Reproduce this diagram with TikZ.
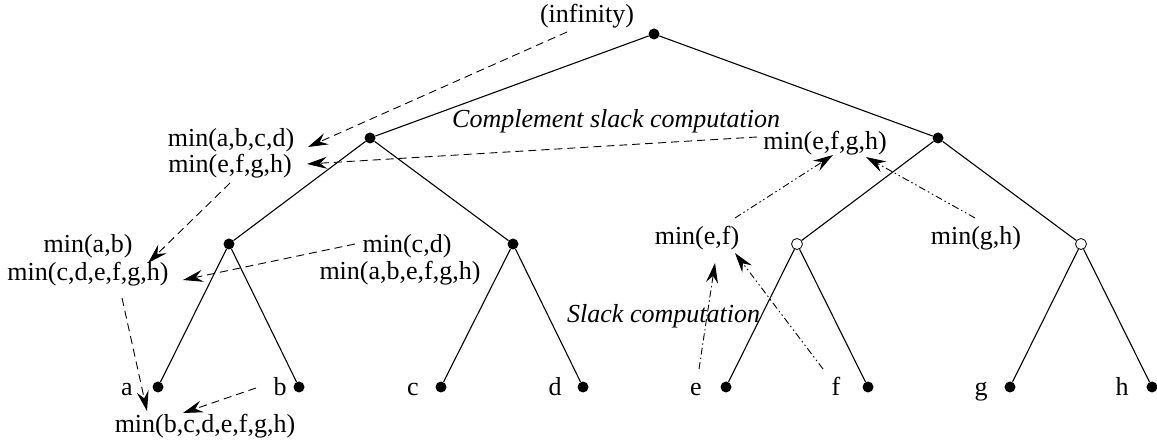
\documentclass[tikz,border=0pt]{standalone}
\usepackage{fontspec}
\setmainfont{Liberation Serif}
\usetikzlibrary{arrows.meta}

\tikzset{
  dot/.style={circle, fill=black, inner sep=0pt, minimum size=11pt},
  hollow/.style={circle, draw=black, line width=0.8pt, inner sep=0pt, minimum size=11pt},
  branch/.style={line width=1.1pt},
  lbl/.style={anchor=base, inner sep=0pt, font=\fontsize{26}{30}\selectfont},
  note/.style={anchor=base west, inner sep=0pt, font=\fontsize{26}{30}\selectfont\itshape},
  headtip/.style={-{Stealth[length=20pt,width=12pt,inset=7pt]}},
  dsh/.style={headtip, line width=0.9pt, dash pattern=on 8pt off 5pt},
  dshdot/.style={headtip, line width=0.9pt, dash pattern=on 7pt off 3pt on 1.5pt off 3pt},
  dshdotdot/.style={headtip, line width=0.9pt, dash pattern=on 7pt off 3pt on 1.5pt off 3pt on 1.5pt off 3pt},
}

\begin{document}
\begin{tikzpicture}[x=1pt, y=-1pt]
\useasboundingbox (0,0) rectangle (1157,443);

% tree vertices
\node[dot] (root) at (654,34) {};
\node[dot] (n1) at (370,138) {};
\node[dot] (n2) at (938,138) {};
\node[dot] (n11) at (229,244) {};
\node[dot] (n12) at (513,244) {};
\node[hollow] (n21) at (797,244) {};
\node[hollow] (n22) at (1081,244) {};
\node[dot] (la) at (158,387) {};
\node[dot] (lb) at (299,387) {};
\node[dot] (lc) at (441,387) {};
\node[dot] (ld) at (583,387) {};
\node[dot] (le) at (726,387) {};
\node[dot] (lf) at (868,387) {};
\node[dot] (lg) at (1010,387) {};
\node[dot] (lh) at (1152,387) {};

% tree edges
\draw[branch] (root) -- (n1);
\draw[branch] (root) -- (n2);
\draw[branch] (n1) -- (n11);
\draw[branch] (n1) -- (n12);
\draw[branch] (n2) -- (n21);
\draw[branch] (n2) -- (n22);
\draw[branch] (n11) -- (la);
\draw[branch] (n11) -- (lb);
\draw[branch] (n12) -- (lc);
\draw[branch] (n12) -- (ld);
\draw[branch] (n21) -- (le);
\draw[branch] (n21) -- (lf);
\draw[branch] (n22) -- (lg);
\draw[branch] (n22) -- (lh);

% leaf names
\node[lbl] (ta) at (127,396) {a};
\node[lbl] (tb) at (280,396) {b};
\node[lbl] (tc) at (413,396) {c};
\node[lbl] (td) at (555,396) {d};
\node[lbl] (te) at (696,396) {e};
\node[lbl] (tf) at (836,396) {f};
\node[lbl] (tg) at (981,396) {g};
\node[lbl] (th) at (1122,396) {h};

% slack values
\node[lbl] (inf) at (587,23) {(infinity)};
\node[lbl] (abcd) at (231,147) {min(a,b,c,d)};
\node[lbl] (efghL) at (230,173) {min(e,f,g,h)};
\node[lbl] (efghR) at (825,150) {min(e,f,g,h)};
\node[lbl] (ab) at (88,253) {min(a,b)};
\node[lbl] (cdefgh) at (88,281) {min(c,d,e,f,g,h)};
\node[lbl] (cd) at (407,253) {min(c,d)};
\node[lbl] (abefgh) at (400,280) {min(a,b,e,f,g,h)};
\node[lbl] (ef) at (697,245) {min(e,f)};
\node[lbl] (gh) at (976,245) {min(g,h)};
\node[lbl] (bh) at (205,433) {min(b,c,d,e,f,g,h)};

\node[note] (comp) at (452,128) {Complement slack computation};
\node[note] (slack) at (567,323) {Slack computation};

% complement slack propagation (downwards)
\draw[dsh] ([shift={(-20,9)}]inf.base) -- ([shift={(77,0)}]abcd.base);
\draw[dsh] ([shift={(-68,-13)}]efghR.base) -- ([shift={(77,-9)}]efghL.base);
\draw[dsh] ([shift={(0,10)}]efghL.base) -- ([shift={(60,-18)}]cdefgh.base);
\draw[dsh] ([shift={(-52,-9)}]cd.base) -- ([shift={(95,-1)}]cdefgh.base);
\draw[dsh] ([shift={(34,17)}]cdefgh.base) -- ([shift={(-58,-22)}]bh.base);
\draw[dsh] ([shift={(-24,-8)}]tb.base) -- ([shift={(-22,-20)}]bh.base);

% slack propagation (upwards)
\draw[dshdot] ([shift={(3,-27)}]te.base) -- ([shift={(18,18)}]ef.base);
\draw[dshdotdot] ([shift={(-13,-27)}]tf.base) -- ([shift={(38,8)}]ef.base);
\draw[dshdotdot] ([shift={(38,-27)}]ef.base) -- ([shift={(8,5)}]efghR.base);
\draw[dshdotdot] ([shift={(-1,-27)}]gh.base) -- ([shift={(41,7)}]efghR.base);
\end{tikzpicture}
\end{document}
